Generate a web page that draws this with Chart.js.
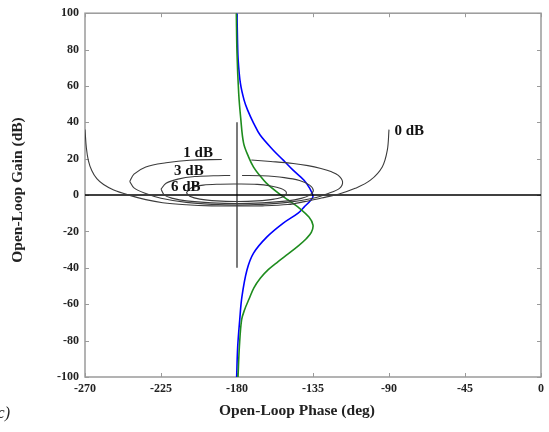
<!DOCTYPE html>
<html>
<head>
<meta charset="utf-8">
<script src="https://cdn.jsdelivr.net/npm/chart.js@4.4.1/dist/chart.umd.min.js"></script>
<style>
    html, body { margin: 0; padding: 0; background: #fff; }
    canvas { display: block; }
</style>
</head>
<body>
<canvas id="chart" width="549" height="432"></canvas>
<script>
(function app() {

    // open-loop responses: phase (deg) against gain (dB)
    const bluePhase = [-180.0, -179.7, -179.3, -178.0, -175.8, -173.7, -170.2, -166.3, -158.5, -152.6, -146.8, -140.3, -137.0, -135.0, -136.2, -140.3, -143.8, -152.6, -162.4, -170.2, -174.1, -177.1, -178.4, -179.6, -180.2];
    const blueGain = [100, 85, 74.2, 61.5, 52.2, 46.7, 39.6, 33.0, 24.7, 19.2, 13.7, 8.2, 3.8, -0.5, -2.7, -6.6, -9.9, -15.4, -23.1, -31.9, -41.2, -56.0, -68.7, -83.5, -100];

    const greenPhase = [-180.4, -180.0, -179.0, -177.8, -176.1, -173.1, -170.2, -166.7, -162.6, -155.5, -149.7, -143.8, -137.4, -135.0, -136.0, -139.0, -143.5, -149.5, -156.0, -161.5, -166.1, -170.0, -172.8, -175.5, -177.3, -178.6, -179.4];
    const greenGain = [100, 78, 56, 42.3, 28.6, 20.9, 15.4, 11.0, 6.6, 1.1, -2.7, -6.6, -12.1, -16.5, -20.5, -24.0, -27.8, -32.2, -36.8, -41.0, -45.6, -51.0, -57.0, -63.0, -68.7, -83.5, -100];

    // closed-loop magnitude contours (null gain = break in the line)
    const contour0Phase = [-270, -269.2, -268, -266, -263, -259, -253, -244, -234, -224, -210, -195, -180, -165, -150, -140, -130, -120, -110, -101, -94, -91, -90];
    const contour0Gain = [36, 26, 19, 13.5, 9, 5.8, 2.8, 0, -2.5, -4.2, -5.3, -5.9, -6.0, -5.9, -5.2, -3.6, -1.6, 0.5, 3.7, 8.2, 15.5, 24.7, 36];

    const contour1Phase = [-243.5, -241, -234, -222, -208, -189, -180, -171.5, -160, -146.7, -138, -130.3, -124, -120, -117.5, -119.3, -126, -135, -150, -165, -180, -195, -210, -225, -234, -241, -243.5];
    const contour1Gain = [7.5, 11.5, 15.5, 17.8, 19.2, 19.6, null, 19.3, 18.5, 17.4, 16.2, 14.6, 12.8, 10.8, 7.3, 3.7, 0.9, -1.7, -4.0, -5.1, -5.5, -5.1, -4.0, -1.7, 0.9, 4.0, 7.5];

    const contour3Phase = [-225, -222, -215, -205, -194, -184, -180, -177, -165, -152, -143, -137, -134.8, -137, -142, -150, -165, -180, -195, -210, -218, -223, -225];
    const contour3Gain = [3.3, 6.5, 8.8, 10.2, 10.6, 10.8, null, 10.8, 10.6, 9.6, 8.0, 5.5, 2.5, 0, -1.8, -3.2, -4.3, -4.7, -4.3, -3.2, -1.8, 0, 3.3];

    const contour6Phase = [-210, -207, -200, -190, -180, -168, -160, -154, -150.8, -152, -158, -168, -180, -192, -202, -208, -210];
    const contour6Gain = [1.3, 4.0, 5.5, 6.0, 6.1, 5.9, 5.0, 3.6, 1.6, -0.6, -2.2, -3.2, -3.5, -3.2, -2.2, -0.6, 1.3];

    const contourLabels = ['1 dB', '3 dB', '6 dB', '0 dB'];
    const contourLabelPhase = [-203, -208.5, -210.3, -78];
    const contourLabelGain = [23, 13.2, 4.6, 35.2];

    // reference axes through the critical point
    const zeroLinePhase = [-270, 0];
    const zeroLineGain = [0, 0];
    const crossPhase = [-180, -180];
    const crossGain = [40, -40];

    const xTitle = 'Open-Loop Phase (deg)';
    const yTitle = 'Open-Loop Gain (dB)';

    const serif = "'Liberation Serif', 'Times New Roman', serif";

    function toPoints(phases, gains) {
        return phases.map((phase, i) => ({ x: phase, y: gains[i] }));
    }

    function curve(phases, gains, color, width, tension) {
        return {
            data: toPoints(phases, gains),
            showLine: true,
            borderColor: color,
            borderWidth: width,
            pointRadius: 0,
            tension: tension,
            spanGaps: false
        };
    }

    // box around the plot with short inward ticks on every side, plus titles and labels
    const frame = {
        id: 'frame',
        beforeDatasetsDraw(chart) {
            const { ctx, chartArea: a, scales } = chart;
            ctx.save();
            ctx.strokeStyle = '#9a9a9a';
            ctx.lineWidth = 1.5;
            ctx.strokeRect(a.left, a.top, a.right - a.left, a.bottom - a.top);
            ctx.lineWidth = 1;
            ctx.beginPath();
            scales.x.ticks.forEach(t => {
                const px = Math.round(scales.x.getPixelForValue(t.value)) + 0.5;
                ctx.moveTo(px, a.bottom); ctx.lineTo(px, a.bottom - 4);
                ctx.moveTo(px, a.top); ctx.lineTo(px, a.top + 4);
            });
            scales.y.ticks.forEach(t => {
                const py = Math.round(scales.y.getPixelForValue(t.value)) + 0.5;
                ctx.moveTo(a.left, py); ctx.lineTo(a.left + 4, py);
                ctx.moveTo(a.right, py); ctx.lineTo(a.right - 4, py);
            });
            ctx.stroke();
            ctx.restore();
        },
        afterDatasetsDraw(chart) {
            const { ctx, scales } = chart;
            ctx.save();
            ctx.fillStyle = '#111';
            ctx.font = 'bold 15px ' + serif;
            ctx.textAlign = 'center';
            ctx.textBaseline = 'middle';
            contourLabels.forEach((text, i) => {
                ctx.fillText(text,
                    scales.x.getPixelForValue(contourLabelPhase[i]),
                    scales.y.getPixelForValue(contourLabelGain[i]));
            });

            ctx.fillStyle = '#222';
            ctx.font = 'bold 15.5px ' + serif;
            ctx.fillText(xTitle, 297, 411);
            ctx.save();
            ctx.translate(18, 190);
            ctx.rotate(-Math.PI / 2);
            ctx.fillText(yTitle, 0, 0);
            ctx.restore();

            ctx.font = 'italic 16px ' + serif;
            ctx.textAlign = 'right';
            ctx.fillText('c)', 10, 414);
            ctx.restore();
        }
    };

    const tickFont = { family: serif, size: 12, weight: 'bold' };

    const configuration = {
        type: 'scatter',
        data: {
            datasets: [
                curve(contour0Phase, contour0Gain, '#3c3c3c', 1.1, 0.35),
                curve(contour1Phase, contour1Gain, '#3c3c3c', 1.1, 0.35),
                curve(contour3Phase, contour3Gain, '#3c3c3c', 1.1, 0.35),
                curve(contour6Phase, contour6Gain, '#3c3c3c', 1.1, 0.35),
                curve(zeroLinePhase, zeroLineGain, '#000000', 1.5, 0),
                curve(crossPhase, crossGain, '#333333', 1.3, 0),
                curve(greenPhase, greenGain, '#1e8c1e', 1.6, 0.35),
                curve(bluePhase, blueGain, '#0000ff', 1.6, 0.35)
            ]
        },
        options: {
            responsive: false,
            animation: false,
            layout: { padding: { top: 13, right: 4, left: 0, bottom: 0 } },
            plugins: {
                legend: { display: false },
                tooltip: { enabled: false }
            },
            scales: {
                x: {
                    type: 'linear',
                    min: -270,
                    max: 0,
                    grid: { display: false, tickLength: 0 },
                    border: { display: false },
                    ticks: { stepSize: 45, padding: 5, color: '#222', font: tickFont },
                    afterFit: scale => { scale.height = 55; }
                },
                y: {
                    type: 'linear',
                    min: -100,
                    max: 100,
                    grid: { display: false, tickLength: 0 },
                    border: { display: false },
                    ticks: { stepSize: 20, padding: 6, color: '#222', font: tickFont },
                    afterFit: scale => { scale.width = 85; }
                }
            }
        },
        plugins: [frame]
    };

    new Chart(document.getElementById('chart'), configuration);
})();
</script>
</body>
</html>
